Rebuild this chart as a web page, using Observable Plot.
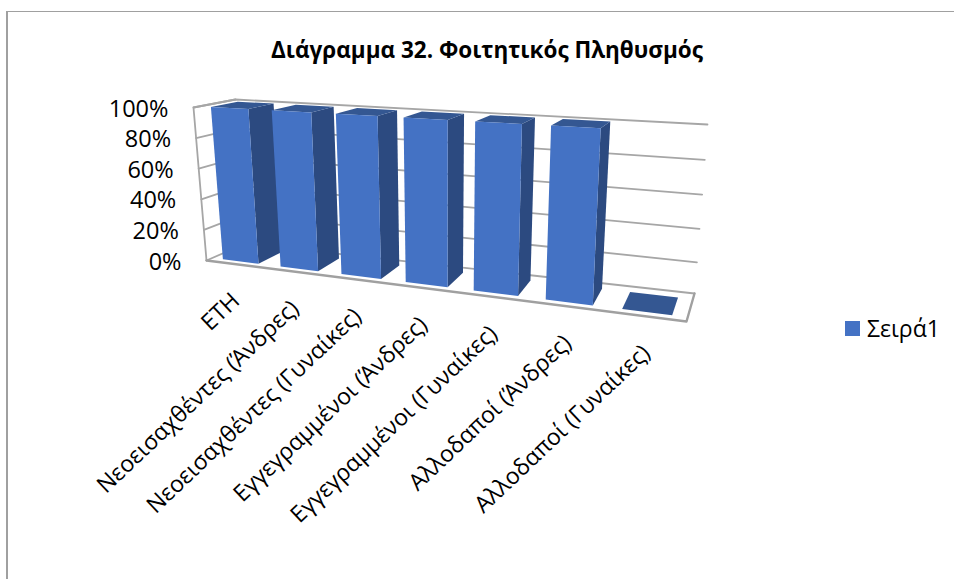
<!DOCTYPE html>
<html lang="el">
<head>
<meta charset="utf-8">
<script src="https://cdn.jsdelivr.net/npm/d3@7"></script>
<script src="https://cdn.jsdelivr.net/npm/@observablehq/plot@0.6"></script>
<style>
  html, body { margin: 0; padding: 0; background: #fff; width: 954px; height: 579px; overflow: hidden; }
  body { position: relative; font-family: "Open Sans", "Noto Sans", sans-serif; color: #000; }
  #frame { position: absolute; left: 6px; top: 11px; right: 0; bottom: 0; border-left: 2px solid #a0a0a0; border-top: 1px solid #a0a0a0; }
  #chart { position: absolute; left: 0; top: 0; }
  #chart svg { display: block; background: transparent; }
  #title { position: absolute; left: 237px; top: 35px; width: 500px; text-align: center; font-size: 22.5px; font-weight: 700; line-height: 30px; white-space: nowrap; margin: 0; }
  #legend { position: absolute; left: 845px; top: 312px; display: flex; align-items: center; font-size: 23px; line-height: 32px; }
  #legend i { display: block; width: 15px; height: 15px; background: #4472c4; margin-right: 7px; }
</style>
</head>
<body>
<div id="frame"></div>
<div id="chart"></div>
<h1 id="title">Διάγραμμα 32. Φοιτητικός Πληθυσμός</h1>
<div id="legend"><i></i><span>Σειρά1</span></div>
<script>
const categories = ["ΕΤΗ", "Νεοεισαχθέντες (Άνδρες)", "Νεοεισαχθέντες (Γυναίκες)", "Εγγεγραμμένοι (Άνδρες)", "Εγγεγραμμένοι (Γυναίκες)", "Αλλοδαποί (Άνδρες)", "Αλλοδαποί (Γυναίκες)"];
const values = [100, 100, 100, 100, 100, 100, 0];
const valueTicks = [0, 20, 40, 60, 80, 100];

// The 3-D camera: where the eight corners of the plot box land on the page
const FBL = [206, 260], FBR = [686, 321], BBL = [245, 243], BBR = [694, 293];
const FTL = [193, 107], FTR = [699, 135], BTL = [235, 99], BTR = [707, 124];
const perspective = 1.22, barHalf = 0.0445, depthFront = 0.15, depthBack = 0.8;

const lerp = (a, b, t) => [a[0] + (b[0] - a[0]) * t, a[1] + (b[1] - a[1]) * t];
// t: 0..1 along categories, d: 0..1 front to back, v: 0..100 on the value axis
function project(t, d, v) {
  const u = t / (t + perspective * (1 - t));
  const w = Math.pow(v / 100, 1 + 0.05 * u);
  const bottom = lerp(lerp(FBL, FBR, u), lerp(BBL, BBR, u), d);
  const top = lerp(lerp(FTL, FTR, u), lerp(BTL, BTR, u), d);
  const p = lerp(bottom, top, w);
  return {x: p[0], y: p[1]};
}
const centre = (i) => (i + 0.5) / categories.length;

function facePoints(name, corners) {
  return values.flatMap((v, i) => {
    const t0 = centre(i) - barHalf, t1 = centre(i) + barHalf;
    return corners(t0, t1, v).map(([t, d, val]) => ({...project(t, d, val), id: name + i}));
  });
}
const frontFaces = facePoints("front", (a, b, v) => [[a, depthFront, 0], [b, depthFront, 0], [b, depthFront, v], [a, depthFront, v]]);
const sideFaces = facePoints("side", (a, b, v) => [[b, depthFront, 0], [b, depthBack, 0], [b, depthBack, v], [b, depthFront, v]]);
const topFaces = facePoints("top", (a, b, v) => [[a, depthFront, v], [b, depthFront, v], [b, depthBack, v], [a, depthBack, v]]);

// gridlines run along the side wall, then across the back wall
const grid = valueTicks.flatMap((v) => [
  {...project(0, 0, v), id: v}, {...project(0, 1, v), id: v}, {...project(1, 1, v), id: v}
]);
const floorEdge = [[0, 0], [1, 0], [1, 1]].map(([t, d]) => project(t, d, 0));
const wallEdge = [project(0, 0, 0), project(0, 0, 100), project(0, 1, 100)];

const tickLabels = valueTicks.map((v) => ({...project(0, 0, v), label: v + "%"}));
const catLabels = categories.map((c, i) => ({...project(centre(i), 0, 0), label: c}));

const chart = Plot.plot({
  width: 954, height: 579, margin: 0,
  x: {type: "identity", axis: null},
  y: {type: "identity", axis: null},
  marks: [
    Plot.line(grid, {x: "x", y: "y", z: "id", stroke: "#a6a6a6", strokeWidth: 1.8, curve: "linear"}),
    Plot.line(wallEdge, {x: "x", y: "y", stroke: "#a6a6a6", strokeWidth: 1.8}),
    Plot.line(floorEdge, {x: "x", y: "y", stroke: "#a0a0a0", strokeWidth: 2.4}),
    Plot.line(sideFaces, {x: "x", y: "y", z: "id", fill: "#2c4a80", stroke: "none"}),
    Plot.line(topFaces, {x: "x", y: "y", z: "id", fill: "#345792", stroke: "none"}),
    Plot.line(frontFaces, {x: "x", y: "y", z: "id", fill: "#4472c4", stroke: "none"}),
    Plot.text(tickLabels, {x: "x", y: "y", text: "label", textAnchor: "end", dx: -25, dy: 1.5, fontSize: 23.5, fill: "#000"}),
    Plot.text(catLabels, {x: "x", y: "y", text: "label", textAnchor: "end", rotate: -43.5, dx: 1, dy: 33, fontSize: 23, fill: "#000"})
  ]
});
chart.style.fontFamily = '"Open Sans", "Noto Sans", sans-serif';
document.getElementById("chart").appendChild(chart);
</script>
</body>
</html>
